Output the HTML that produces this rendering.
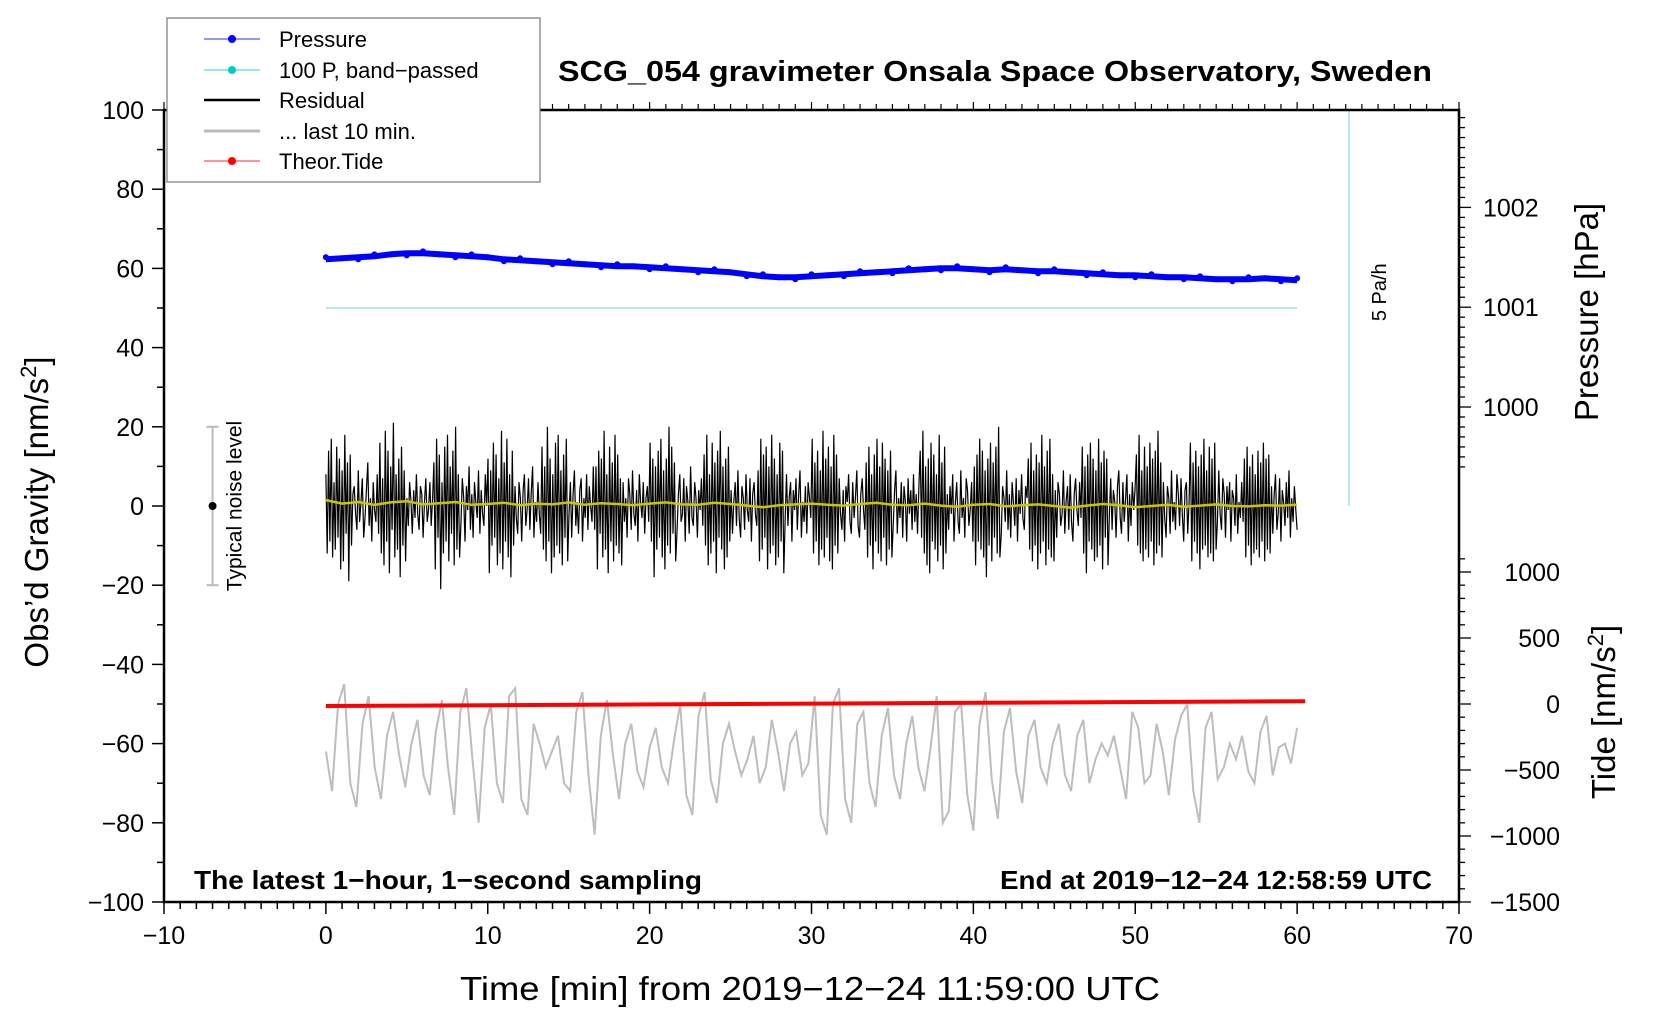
<!DOCTYPE html>
<html><head><meta charset="utf-8"><style>
body{margin:0;background:#fff}
svg{display:block;font-family:"Liberation Sans",Arial,sans-serif}
</style></head><body>
<svg id="chart" width="1660" height="1020" viewBox="0 0 1660 1020">
<g id="marks"></g>
<g id="axes"></g>
</svg>
<script>
const residual=[8,-12,14,-9,17,-13,6,-11,15,-8,12,-16,9,-14,18,-7,11,-19,13,-10,
3,5,-2,-6,9,-4,1,7,-8,-3,4,11,-5,2,-9,6,-1,-4,8,-7,
16,-12,7,-15,19,-9,14,-17,10,-6,21,-13,8,-11,12,-18,15,-10,9,-14,
2,-5,6,1,-7,4,-3,8,-2,-6,5,3,-8,1,7,-4,-1,6,-5,2,
11,-16,17,-8,13,-21,6,-12,15,-9,18,-14,10,-7,14,-15,20,-11,8,-13,
-4,7,2,-9,5,-1,10,-6,3,-8,6,1,-3,9,-7,4,-2,-5,8,0,
12,-17,9,-10,16,-8,13,-15,7,-12,19,-16,11,-9,17,-13,8,-18,14,-10,
5,-3,-7,6,2,-9,4,8,-5,-1,7,-6,3,10,-8,1,-4,6,-2,-7,
15,-11,10,-14,20,-9,12,-17,8,-13,16,-10,18,-12,9,-15,13,-8,17,-14,
-2,6,-8,3,9,-5,1,-7,4,7,-9,2,-3,8,-6,5,0,-4,10,-6,
10,-16,14,-7,12,-13,19,-11,8,-17,15,-9,11,-14,18,-10,13,-12,7,-15,
6,-4,2,-8,7,3,-6,9,-2,-5,4,-9,8,1,-3,6,-7,2,5,-4,
16,-9,12,-18,10,-11,14,-8,17,-13,9,-16,12,-10,20,-12,15,-7,11,-14,
-6,3,8,-4,-2,7,-9,5,1,-7,10,-3,-5,6,2,-8,4,-1,7,-5,
13,-10,18,-15,8,-12,16,-9,11,-17,14,-8,19,-11,10,-16,12,-13,15,-9,
4,-7,1,6,-5,9,-3,-8,5,2,-6,8,-1,-4,7,-9,3,6,-2,-5,
9,-14,17,-11,13,-8,15,-16,10,-12,18,-10,12,-15,8,-13,16,-9,14,-17,
-3,8,-5,2,6,-9,4,-1,7,-6,3,9,-8,1,-4,5,-7,6,2,-3,
17,-12,11,-9,14,-15,9,-11,19,-13,12,-8,15,-14,10,-16,18,-10,13,-12,
7,-2,-6,4,-9,5,1,8,-4,-7,6,-3,2,9,-5,-8,3,7,-1,-6,
11,-13,15,-10,8,-16,13,-9,17,-12,10,-14,16,-8,12,-15,9,-11,14,-13,
-5,4,9,-7,2,-3,6,-8,5,1,-9,7,-2,4,-6,8,-4,3,-7,5,
14,-8,19,-12,10,-15,12,-17,16,-9,13,-11,8,-14,18,-10,11,-16,15,-12,
3,-6,5,-2,8,-9,1,6,-4,-7,9,-3,2,-8,7,4,-5,-1,6,-9,
10,-15,13,-9,17,-11,14,-13,9,-18,12,-10,16,-14,11,-8,15,-12,20,-13,
-7,5,2,-4,9,-6,3,-8,6,1,-5,7,-9,4,-2,8,-3,-6,5,2,
12,-11,16,-14,9,-10,13,-16,11,-12,18,-9,10,-15,14,-11,17,-13,8,-14,
4,-8,6,3,-5,-2,9,-7,1,5,-6,8,-4,-9,3,7,-1,-5,6,-3,
15,-12,10,-17,13,-9,16,-11,12,-14,9,-13,17,-10,11,-16,14,-8,12,-15,
-2,7,-6,4,1,-8,5,9,-3,-7,6,-4,2,8,-9,3,-5,6,-1,4,
13,-10,18,-12,9,-14,15,-11,10,-13,16,-9,12,-15,14,-12,19,-10,11,-13,
6,-3,-8,5,2,-7,9,-4,1,-6,8,3,-5,7,-2,-9,4,6,-7,1,
16,-14,11,-9,14,-12,10,-16,13,-11,17,-10,9,-13,15,-12,12,-14,16,-11,
-4,9,-2,-6,7,3,-8,5,-1,6,-9,4,2,-5,8,-7,1,-3,6,-4,
12,-13,15,-10,10,-15,13,-12,8,-11,14,-13,11,-9,16,-14,12,-11,13,-12,
5,-7,3,8,-6,-2,7,-9,4,1,-5,6,-3,9,-8,2,-4,5,-1,-6];
const residualMean=[1.5,0.6,1.0,0.3,0.9,1.2,0.4,0.7,1.0,0.3,0.5,0.8,0.2,0.6,0.4,0.9,0.3,0.7,0.5,0.2,
0.6,0.9,0.4,0.3,0.8,0.5,0.1,-0.3,0.2,0.4,0.6,0.3,0.1,0.5,0.8,0.3,0.2,0.6,0.1,-0.2,
0.3,0.5,-0.1,0.2,0.4,0.0,-0.4,0.1,0.5,0.2,-0.3,0.0,0.3,-0.2,0.1,0.4,0.0,-0.1,0.2,0.1,0.3];
const lastTen=[-62,-72,-50,-45,-70,-76,-55,-48,-66,-74,-58,-52,-63,-71,-60,-54,-68,-73,-57,-49,
-66,-78,-52,-46,-64,-80,-56,-50,-70,-75,-48,-46,-74,-78,-55,-60,-66,-62,-58,-70,
-72,-52,-47,-68,-83,-58,-49,-63,-74,-60,-55,-67,-71,-61,-56,-66,-70,-59,-50,-73,
-78,-53,-47,-69,-75,-60,-55,-62,-68,-64,-58,-70,-66,-54,-62,-72,-60,-57,-68,-65,
-48,-78,-83,-50,-46,-74,-80,-55,-52,-70,-76,-58,-51,-68,-74,-60,-53,-66,-72,-61,
-48,-80,-77,-52,-50,-73,-82,-55,-47,-69,-79,-57,-51,-67,-75,-58,-54,-66,-70,-60,
-55,-68,-72,-58,-54,-70,-64,-60,-63,-58,-66,-74,-52,-56,-70,-68,-55,-62,-73,-59,
-53,-50,-72,-80,-56,-52,-69,-66,-60,-64,-58,-67,-70,-57,-53,-68,-61,-60,-65,-56];
const pressure=[1001.48,1001.49,1001.50,1001.51,1001.53,1001.54,1001.54,1001.53,1001.52,1001.51,
1001.50,1001.48,1001.47,1001.46,1001.45,1001.44,1001.43,1001.42,1001.41,1001.41,
1001.40,1001.39,1001.38,1001.37,1001.36,1001.35,1001.33,1001.31,1001.30,1001.30,
1001.31,1001.32,1001.33,1001.34,1001.35,1001.36,1001.37,1001.38,1001.39,1001.39,
1001.38,1001.37,1001.38,1001.37,1001.36,1001.36,1001.35,1001.34,1001.33,1001.32,
1001.32,1001.31,1001.30,1001.30,1001.29,1001.28,1001.28,1001.28,1001.29,1001.28,1001.27];
const bandPassed=[50,50];
const tide=[-15,-9,-3,3,9,15,21];
const xTicks=[-10,0,10,20,30,40,50,60,70];
const yTicks=[100,80,60,40,20,0,-20,-40,-60,-80,-100];
const pTicks=[1002,1001,1000];
const tTicks=[1000,500,0,-500,-1000,-1500];

const NS='http://www.w3.org/2000/svg';
const X0=164,X1=1459,Y0=110,Y1=902;
const xs=t=>X0+(t+10)/80*(X1-X0);
const ys=g=>Y0+(100-g)/200*(Y1-Y0);
const ps=p=>ys(25+(p-1000)*25.2);
const ts=v=>ys(-50+v/30);
const marks=document.getElementById('marks'),axes=document.getElementById('axes');
function mk(tag,attrs,parent,txt){const e=document.createElementNS(NS,tag);for(const k in attrs)e.setAttribute(k,attrs[k]);if(txt!==undefined)e.textContent=txt;parent.appendChild(e);return e;}
function pts(arr,tStep,fy){return arr.map((v,i)=>xs(i*tStep).toFixed(1)+','+fy(v).toFixed(1)).join(' ');}

let e=mk('line',{x1:xs(0),x2:xs(60),y1:ys(bandPassed[0]),y2:ys(bandPassed[1]),stroke:'#b8e8e8','stroke-width':2},marks);

e=mk('line',{x1:xs(63.2),x2:xs(63.2),y1:Y0,y2:ys(0),stroke:'#b8e8e8','stroke-width':2},marks);

e=mk('text',{x:0,y:0,transform:`translate(${xs(65.5)},${ps(1001.15)}) rotate(-90)`,'font-size':20,'text-anchor':'middle'},marks,'5 Pa/h');

e=mk('polyline',{points:pts(pressure,1,ps),fill:'none',stroke:'#0000ff','stroke-width':6,'stroke-linejoin':'round'},marks);

pressure.forEach((p,i)=>{const c=mk('circle',{cx:xs(i),cy:ps(p)+(i%3-1)*2,r:3,fill:'#0000ff'},marks);

});
e=mk('polyline',{points:pts(residual,60/(residual.length-1),ys),fill:'none',stroke:'#000','stroke-width':1.2},marks);

e=mk('polyline',{points:pts(residualMean,1,ys),fill:'none',stroke:'#c8c800','stroke-width':2.5},marks);

e=mk('polyline',{points:pts(lastTen,60/(lastTen.length-1),ys),fill:'none',stroke:'#bdbdbd','stroke-width':2},marks);

e=mk('polyline',{points:pts(tide,60.5/(tide.length-1),ts),fill:'none',stroke:'#ff0000','stroke-width':4},marks);

e=mk('line',{x1:xs(-7),x2:xs(-7),y1:ys(20),y2:ys(-20),stroke:'#bbb','stroke-width':2},marks);

[20,-20].forEach(v=>{const c=mk('line',{x1:xs(-7)-6,x2:xs(-7)+6,y1:ys(v),y2:ys(v),stroke:'#bbb','stroke-width':2},marks);

});
e=mk('circle',{cx:xs(-7),cy:ys(0),r:4,fill:'#000'},marks);

e=mk('text',{x:0,y:0,transform:`translate(${xs(-5.2)},${ys(0)}) rotate(-90)`,'font-size':21,'text-anchor':'middle'},marks,'Typical noise level');


e=mk('rect',{x:X0,y:Y0,width:X1-X0,height:Y1-Y0,fill:'none',stroke:'#000','stroke-width':2.5},axes);

for(let t=-10;t<=70;t++){const maj=t%10===0;
 const a=mk('line',{x1:xs(t),x2:xs(t),y1:Y1,y2:Y1+(maj?12:7),stroke:'#000','stroke-width':1.5},axes);
 
 
 const b=mk('line',{x1:xs(t),x2:xs(t),y1:Y0,y2:Y0-(maj?8:6),stroke:'#000','stroke-width':1.2},axes);
 
 }
xTicks.forEach(t=>{const l=mk('text',{x:xs(t),y:Y1+42,'font-size':25,'text-anchor':'middle'},axes,String(t).replace('-','\u2212'));

});
for(let g=-100;g<=100;g+=10){const maj=g%20===0;
 const a=mk('line',{x1:X0,x2:X0-(maj?12:7),y1:ys(g),y2:ys(g),stroke:'#000','stroke-width':1.5},axes);
 
 }
yTicks.forEach(g=>{const l=mk('text',{x:X0-20,y:ys(g)+9,'font-size':25,'text-anchor':'end'},axes,String(g).replace('-','\u2212'));

});
for(let k=0;k<=36;k++){const p=1000-0.6+k*0.1;const y=ps(p);if(y<Y0)continue;const maj=Math.abs(p-Math.round(p))<0.001;
 const a=mk('line',{x1:X1,x2:X1+(maj?12:6),y1:y,y2:y,stroke:'#000','stroke-width':1.3},axes);
 
 }
pTicks.forEach(p=>{const l=mk('text',{x:X1+24,y:ps(p)+9,'font-size':25},axes,String(p));

});
for(let v=-1500;v<=1100;v+=100){const maj=v%500===0;
 const a=mk('line',{x1:X1,x2:X1+(maj?12:6),y1:ts(v),y2:ts(v),stroke:'#000','stroke-width':1.3},axes);
 
 }
tTicks.forEach(v=>{const l=mk('text',{x:1560,y:ts(v)+9,'font-size':25,'text-anchor':'end'},axes,String(v).replace('-','\u2212'));

});
</script>
<script>
const S=document.getElementById('chart');
function T(html){S.insertAdjacentHTML('beforeend',html);}
T(`<text x="995" y="81" font-size="29" font-weight="bold" text-anchor="middle" textLength="874" lengthAdjust="spacingAndGlyphs">SCG_054 gravimeter Onsala Space Observatory, Sweden</text>
<text x="810" y="1000" font-size="33" text-anchor="middle" textLength="700" lengthAdjust="spacingAndGlyphs">Time [min] from 2019−12−24 11:59:00 UTC</text>
<text transform="translate(48,512) rotate(-90)" font-size="33" text-anchor="middle">Obs’d Gravity [nm/s<tspan font-size="22" dy="-12">2</tspan><tspan dy="12">]</tspan></text>
<text transform="translate(1598,312) rotate(-90)" font-size="33" text-anchor="middle">Pressure [hPa]</text>
<text transform="translate(1615,712) rotate(-90)" font-size="33" text-anchor="middle">Tide [nm/s<tspan font-size="22" dy="-12">2</tspan><tspan dy="12">]</tspan></text>
<text x="194" y="889" font-size="26" font-weight="bold" textLength="508" lengthAdjust="spacingAndGlyphs">The latest 1−hour, 1−second sampling</text>
<text x="1432" y="889" font-size="26" font-weight="bold" text-anchor="end" textLength="432" lengthAdjust="spacingAndGlyphs">End at 2019−12−24 12:58:59 UTC</text>
<g>
<rect x="167" y="18" width="373" height="164" fill="#fff" stroke="#777" stroke-width="1.2"/>
<g><line x1="204" x2="260" y1="39" y2="39" stroke="#5555ff" stroke-width="1.2"/><circle cx="232" cy="39" r="4" fill="#0000ff"/><text x="279" y="47" font-size="22">Pressure</text></g>
<g><line x1="204" x2="260" y1="70" y2="70" stroke="#55dddd" stroke-width="1.2"/><circle cx="232" cy="70" r="4" fill="#00cccc"/><text x="279" y="78" font-size="22">100 P, band−passed</text></g>
<g><line x1="204" x2="260" y1="100" y2="100" stroke="#000" stroke-width="2.5"/><text x="279" y="108" font-size="22">Residual</text></g>
<g><line x1="204" x2="260" y1="131" y2="131" stroke="#bbb" stroke-width="3"/><text x="279" y="139" font-size="22">... last 10 min.</text></g>
<g><line x1="204" x2="260" y1="161" y2="161" stroke="#ff5555" stroke-width="1.2"/><circle cx="232" cy="161" r="4" fill="#ff0000"/><text x="279" y="169" font-size="22">Theor.Tide</text></g>
</g>`);
</script>
</body></html>
